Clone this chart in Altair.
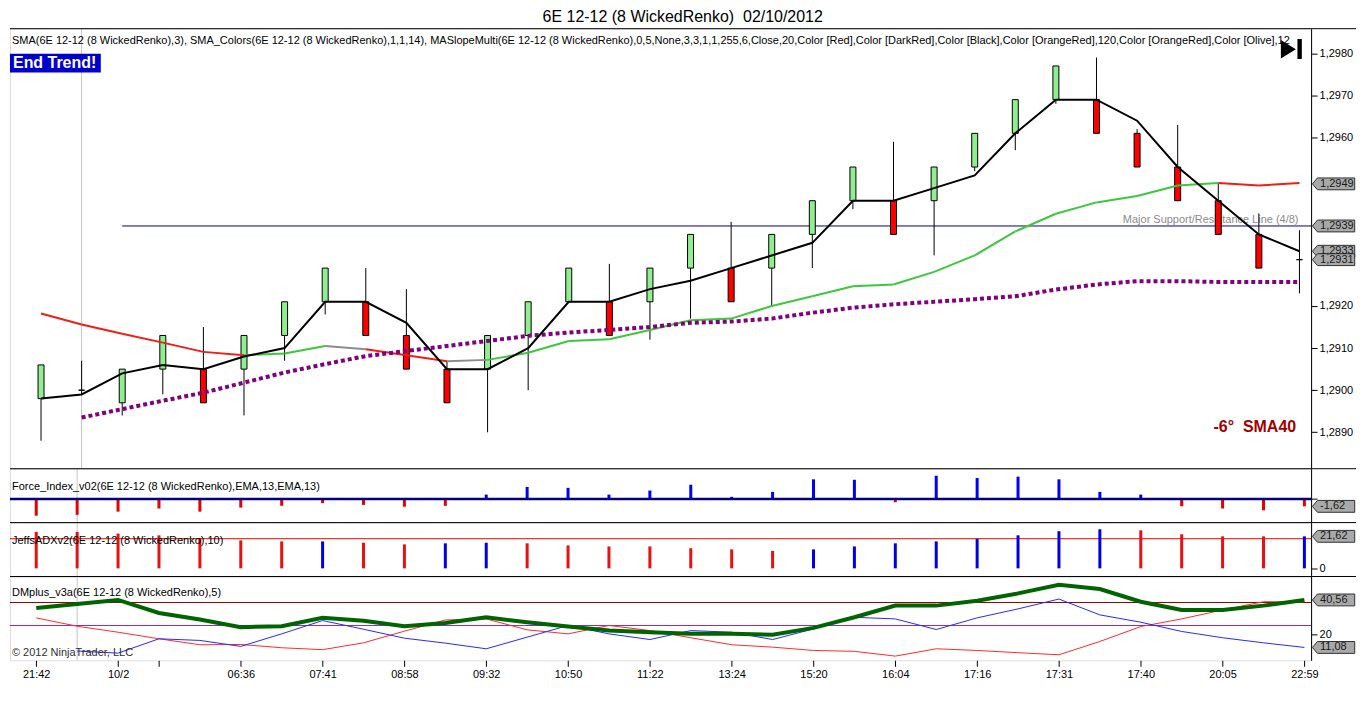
import altair as alt
import pandas as pd

FONT = "Liberation Sans"
NB = "\u00a0"
TITLE = "6E 12-12 (8 WickedRenko)" + NB + " 02/10/2012"
HEADER = ("SMA(6E 12-12 (8 WickedRenko),3), SMA_Colors(6E 12-12 (8 WickedRenko),1,1,14), "
          "MASlopeMulti(6E 12-12 (8 WickedRenko),0,5,None,3,3,1,1,255,6,Close,20,Color [Red],"
          "Color [DarkRed],Color [Black],Color [OrangeRed],120,Color [OrangeRed],Color [Olive],12")
FORCE_LABEL = "Force_Index_v02(6E 12-12 (8 WickedRenko),EMA,13,EMA,13)"
ADX_LABEL = "JeffsADXv2(6E 12-12 (8 WickedRenko),10)"
DM_LABEL = "DMplus_v3a(6E 12-12 (8 WickedRenko),5)"
COPYRIGHT = "© 2012 NinjaTrader, LLC"
END_TREND = "End Trend!"
SLOPE_TEXT = "-6°" + NB + " SMA40"
SR_TEXT = "Major Support/Resistance Line (4/8)"

# ---------------- data ----------------
time_labels = ["21:42", "", "10/2", "", "", "06:36", "", "07:41", "", "08:58", "", "09:32",
               "", "10:50", "", "11:22", "", "13:24", "", "15:20", "", "16:04", "", "17:16",
               "", "17:31", "", "17:40", "", "20:05", "", "22:59"]
tick_bars = [0, 2, 3, 5, 7, 9, 11, 13, 15, 17, 19, 21, 23, 25, 27, 29, 31]

bar_open = [1.2898, 1.2900, 1.2897, 1.2905, 1.2905, 1.2905, 1.2913, 1.2921, 1.2921, 1.2913,
            1.2905, 1.2905, 1.2913, 1.2921, 1.2921, 1.2921, 1.2929, 1.2929, 1.2929, 1.2937,
            1.2945, 1.2945, 1.2945, 1.2953, 1.2961, 1.2969, 1.2969, 1.2961, 1.2953, 1.2945,
            1.2937, 1.2931]
bar_close = [1.2906, 1.2900, 1.2905, 1.2913, 1.2897, 1.2913, 1.2921, 1.2929, 1.2913, 1.2905,
             1.2897, 1.2913, 1.2921, 1.2929, 1.2913, 1.2929, 1.2937, 1.2921, 1.2937, 1.2945,
             1.2953, 1.2937, 1.2953, 1.2961, 1.2969, 1.2977, 1.2961, 1.2953, 1.2945, 1.2937,
             1.2929, 1.2931]
bar_high = [1.2906, 1.2907, 1.2905, 1.2913, 1.2915, 1.2913, 1.2921, 1.2929, 1.2929, 1.2924,
            1.2907, 1.2913, 1.2921, 1.2929, 1.2930, 1.2929, 1.2937, 1.2940, 1.2937, 1.2945,
            1.2953, 1.2959, 1.2953, 1.2961, 1.2969, 1.2977, 1.2979, 1.2962, 1.2963, 1.2949,
            1.2942, 1.2938]
bar_low = [1.2888, 1.2899, 1.2894, 1.2899, 1.2897, 1.2894, 1.2907, 1.2918, 1.2913, 1.2905,
           1.2897, 1.2890, 1.2900, 1.2921, 1.2913, 1.2912, 1.2917, 1.2921, 1.2920, 1.2929,
           1.2943, 1.2937, 1.2932, 1.2952, 1.2957, 1.2968, 1.2961, 1.2953, 1.2945, 1.2937,
           1.2929, 1.2923]

sma3 = [1.2898, 1.2899, 1.2904, 1.2906, 1.2905, 1.2908, 1.2910, 1.2921, 1.2921, 1.2916,
        1.2905, 1.2905, 1.2910, 1.2921, 1.2921, 1.2924, 1.2926, 1.2929, 1.2932, 1.2935,
        1.2945, 1.2945, 1.2948, 1.2951, 1.2961, 1.2969, 1.2969, 1.2964, 1.2953, 1.2945,
        1.2937, 1.2933]
sma14 = [1.29182, 1.29156, 1.29134, 1.29113, 1.29091, 1.29083, 1.29087, 1.29105, 1.29097,
         1.29083, 1.29069, 1.29072, 1.29089, 1.29117, 1.29121, 1.29143, 1.29166, 1.29170,
         1.29200, 1.29223, 1.29247, 1.29251, 1.29281, 1.29320, 1.29377, 1.29419, 1.29446,
         1.29461, 1.29486, 1.29492, 1.29486, 1.29492]
# colour of each segment (bar i -> bar i+1)
sma14_colors = ["red"] * 5 + ["green"] * 2 + ["gray"] + ["red"] * 2 + ["gray"] + \
               ["green"] * 18 + ["red"] * 2
slope_ma = [None, 1.28935, 1.28955, 1.28975, 1.28994, 1.29018, 1.29042, 1.29062, 1.29081,
            1.29093, 1.29105, 1.29117, 1.29129, 1.29137, 1.29143, 1.29150, 1.29160, 1.29163,
            1.29170, 1.29184, 1.29196, 1.29204, 1.29210, 1.29216, 1.29223, 1.29239, 1.29251,
            1.29259, 1.29259, 1.29257, 1.29257, 1.29257]
sr_level = 1.2939
sr_start = 2
cursor_bar = 1
price_ticks = [1.2890, 1.2900, 1.2910, 1.2920, 1.2960, 1.2970, 1.2980]
price_box_values = [1.2949, 1.2939, 1.2933, 1.2931]
price_box_labels = ["1,2949", "1,2939", "1,2933", "1,2931"]

force = [-3.7, -3.5, -2.8, -2.1, -2.8, -1.9, -1.5, -0.9, -1.3, -1.7, -1.5, 1.0, 2.7, 2.5,
         1.0, 1.9, 3.2, 0.5, 1.6, 4.4, 4.3, -0.7, 5.2, 4.7, 5.0, 4.4, 1.6, 1.0, -1.6, -2.1,
         -2.5, -1.62]
force_box_label = "-1,62"

adx = [24.6, 24.6, 23.5, 22.3, 20.5, 18.9, 18.2, 18.2, 17.3, 16.2, 16.9, 17.3, 16.9, 15.5,
       14.8, 14.8, 13.6, 12.8, 11.8, 12.8, 14.8, 16.9, 18.2, 20.0, 22.3, 25.1, 26.4, 25.7,
       23.0, 21.6, 21.6, 21.62]
adx_dir = "rrrrrrrbrrbbrrrrrrrbbbbbbbbrrrrb"
adx_level = 20
adx_box_label = "21,62"

dm_green = [37.7, 40.4, 43.1, 34.4, 30.0, 24.9, 25.5, 31.1, 29.1, 25.5, 27.7, 31.5, 28.2,
            25.3, 22.6, 21.5, 20.4, 20.4, 19.8, 24.4, 31.5, 39.3, 39.3, 42.6, 47.5, 53.3,
            50.4, 41.9, 36.4, 36.4, 39.3, 43.1]
dm_red = [31.1, 25.5, 21.5, 17.1, 13.1, 13.3, 11.1, 9.8, 14.4, 22.2, 29.7, 30.4, 23.1, 20.4,
          26.0, 22.6, 17.8, 13.1, 11.5, 9.3, 8.7, 5.5, 10.4, 9.3, 7.8, 6.4, 15.3, 25.3, 30.4,
          36.4, 41.9, 41.9]
dm_blue = [None, 8.9, 7.5, 17.1, 16.0, 12.0, 20.4, 29.3, 23.5, 17.5, 14.2, 10.4, 18.2, 26.0,
           20.4, 16.6, 22.6, 21.5, 16.6, 23.7, 31.5, 30.4, 23.3, 31.1, 37.1, 43.7, 33.1, 28.2,
           22.0, 17.8, 14.4, 11.3]
dm_upper = 41.4
dm_lower = 26
dm_box_labels = ["40,56", "11,08"]

# ---------------- layout ----------------
W = 1304
H_PRICE, H_FORCE, H_ADX, H_DM = 441, 54, 54, 84
EXT = 1349
idx = list(range(len(bar_open)))
XS = alt.Scale(domain=[-0.6415, 31.164], nice=False, zero=False)
BOX_PATH = "M -1 0 L -0.76 -0.28 L 1 -0.28 L 1 0.28 L -0.76 0.28 Z"
PLAY_PATH = "M -1 -0.86 L 0.43 0.02 L -1 0.9 Z M 0.58 -0.95 L 1 -0.95 L 1 0.95 L 0.58 0.95 Z"
one = pd.DataFrame({"k": [0]})


def X(axis=None):
    return alt.X("i:Q", scale=XS, axis=axis)


def yaxis(values, expr=None):
    kw = dict(orient="right", values=values, tickSize=6, labelPadding=2, grid=False,
              title=None, domainColor="black", tickColor="black", labelColor="black",
              labelFont=FONT, labelFontSize=11)
    if expr:
        kw["labelExpr"] = expr
    return alt.Axis(**kw)


def top_line():
    return alt.Chart(one).mark_rule(color="black", strokeWidth=1).encode(
        x=alt.value(0), x2=alt.value(EXT), y=alt.value(0))


def cursor(Xf):
    return alt.Chart(pd.DataFrame({"i": [cursor_bar]})).mark_rule(
        color="#C4C4C4", strokeWidth=1).encode(x=Xf)


def label_text(txt, y, color="black", size=11, weight="normal", x=2, align="left"):
    return alt.Chart(pd.DataFrame({"t": [txt]})).mark_text(
        align=align, baseline="middle", font=FONT, fontSize=size, fontWeight=weight,
        color=color, clip=True).encode(text="t:N", x=alt.value(x), y=alt.value(y))


def boxes(Yf, values, labels):
    d = pd.DataFrame({"v": values, "t": labels})
    b = alt.Chart(d).mark_point(shape=BOX_PATH, size=1798, filled=True, fill="#A9A9A9",
                                stroke="#303030", strokeWidth=1, opacity=1).encode(
        x=alt.value(1326.5), y=Yf)
    t = alt.Chart(d).mark_text(align="left", baseline="middle", font=FONT, fontSize=11,
                               color="#1A1A1A").encode(
        x=alt.value(1313), y=Yf, text="t:N")
    return [b, t]


# ---------------- price panel ----------------
PS = alt.Scale(domain=[1.288135, 1.298585], nice=False, zero=False)
PAX = yaxis(price_ticks, "replace(format(datum.value, '.4f'), '.', ',')")


def PY(f):
    return alt.Y(f"{f}:Q", scale=PS, axis=PAX)


cd = pd.DataFrame({"i": idx, "o": bar_open, "c": bar_close, "h": bar_high, "l": bar_low})
cd["dir"] = ["up" if c > o else ("down" if c < o else "flat") for o, c in zip(bar_open, bar_close)]

seg_rows = []
for s, col in enumerate(sma14_colors):
    hexcol = {"red": "#F01E14", "green": "#3CC83C", "gray": "#8C8C8C"}[col]
    for j in (s, s + 1):
        seg_rows.append({"seg": s, "i": j, "p": sma14[j], "col": hexcol})
segs = pd.DataFrame(seg_rows)

lines = pd.DataFrame({"i": idx, "sma3": sma3, "slope": slope_ma})

p_layers = [
    cursor(X()),
    alt.Chart(pd.DataFrame({"i": [sr_start], "p": [sr_level]})).mark_rule(
        color="#00008C", strokeWidth=1).encode(x=X(), x2=alt.value(W), y=PY("p")),
    alt.Chart(pd.DataFrame({"i": [idx[-1]], "p": [sr_level], "t": [SR_TEXT]})).mark_text(
        align="right", baseline="alphabetic", dx=-1, dy=-3, font=FONT, fontSize=11,
        color="#8C8C8C").encode(x=X(), y=PY("p"), text="t:N"),
    alt.Chart(cd).mark_rule(color="black", strokeWidth=1).encode(
        x=X(), y=PY("l"), y2="h:Q"),
    alt.Chart(cd).mark_bar(size=6, stroke="black", strokeWidth=1).encode(
        x=X(), y=PY("o"), y2="c:Q",
        color=alt.Color("dir:N", scale=alt.Scale(domain=["up", "down", "flat"],
                                                 range=["#90EE90", "#FF0000", "#FFFFFF"]),
                        legend=None)),
    alt.Chart(segs).mark_line(strokeWidth=2).encode(
        x=X(), y=PY("p"), detail="seg:N", color=alt.Color("col:N", scale=None)),
    alt.Chart(lines).mark_line(color="#800080", strokeWidth=4, strokeDash=[4, 3],
                               strokeCap="butt").encode(x=X(), y=PY("slope")),
    alt.Chart(lines).mark_line(color="black", strokeWidth=2).encode(x=X(), y=PY("sma3")),
    label_text(HEADER, 12),
    alt.Chart(one).mark_rect(fill="#0000CC").encode(
        x=alt.value(0), x2=alt.value(91), y=alt.value(25), y2=alt.value(44)),
    label_text(END_TREND, 34.5, color="white", size=16, weight="bold", x=3),
    label_text(SLOPE_TEXT, 399, color="#A00000", size=16, weight="bold", x=1289, align="right"),
    alt.Chart(one).mark_point(shape=PLAY_PATH, size=441, filled=True, fill="black",
                              strokeWidth=0, opacity=1).encode(
        x=alt.value(1284.2), y=alt.value(20.3)),
    top_line(),
] + boxes(PY("v"), price_box_values, price_box_labels)

price = alt.layer(*p_layers).properties(width=W, height=H_PRICE)

# ---------------- force panel ----------------
FS = alt.Scale(domain=[-5.24, 6.76], nice=False, zero=False)
FAX = yaxis([0], "''")


def FY(f):
    return alt.Y(f"{f}:Q", scale=FS, axis=FAX)


fd = pd.DataFrame({"i": idx, "f": force})
fd["col"] = ["#0000FF" if v > 0 else "#E80000" for v in force]
f_layers = [
    cursor(X()),
    alt.Chart(fd).mark_rule(strokeWidth=3).encode(
        x=X(), y=FY("f"), y2=alt.datum(0), color=alt.Color("col:N", scale=None)),
    alt.Chart(pd.DataFrame({"z": [0]})).mark_rule(color="#000080", strokeWidth=2.5).encode(
        x=alt.value(0), x2=alt.value(W), y=FY("z")),
    label_text(FORCE_LABEL, 18),
    top_line(),
] + boxes(FY("v"), [force[-1]], [force_box_label])
force_chart = alt.layer(*f_layers).properties(width=W, height=H_FORCE)

# ---------------- ADX panel ----------------
AS = alt.Scale(domain=[-5.5, 30.9], nice=False, zero=False)
AAX = yaxis([0])


def AY(f):
    return alt.Y(f"{f}:Q", scale=AS, axis=AAX)


ad = pd.DataFrame({"i": idx, "a": adx})
ad["col"] = ["#0000E6" if d == "b" else "#E81010" for d in adx_dir]
a_layers = [
    cursor(X()),
    alt.Chart(pd.DataFrame({"z": [adx_level]})).mark_rule(color="#E00000", strokeWidth=1).encode(
        x=alt.value(0), x2=alt.value(W), y=AY("z")),
    alt.Chart(ad).mark_rule(strokeWidth=3).encode(
        x=X(), y=AY("a"), y2=alt.datum(0), color=alt.Color("col:N", scale=None)),
    label_text(ADX_LABEL, 18),
    top_line(),
] + boxes(AY("v"), [adx[-1]], [adx_box_label])
adx_chart = alt.layer(*a_layers).properties(width=W, height=H_ADX)

# ---------------- DM panel ----------------
DS = alt.Scale(domain=[2.7, 58.8], nice=False, zero=False)
DAX = yaxis([20])
label_array = "[" + ",".join("'" + s + "'" for s in time_labels) + "]"
XAX = alt.Axis(values=tick_bars, labelExpr=label_array + "[datum.value]", tickSize=6,
               labelPadding=2, grid=False, domain=False, title=None, labelAngle=0,
               labelFont=FONT, labelFontSize=11, labelColor="black", tickColor="black",
               labelOverlap=False, labelFlush=False)


def DX():
    return X(XAX)


def DY(f):
    return alt.Y(f"{f}:Q", scale=DS, axis=DAX)


dd = pd.DataFrame({"i": idx, "g": dm_green, "r": dm_red, "b": dm_blue})
d_layers = [
    cursor(DX()),
    alt.Chart(pd.DataFrame({"z": [dm_upper]})).mark_rule(color="#8B0000", strokeWidth=1).encode(
        x=alt.value(0), x2=alt.value(W), y=DY("z")),
    alt.Chart(pd.DataFrame({"z": [dm_lower]})).mark_rule(color="#8A2BC8", strokeWidth=1).encode(
        x=alt.value(0), x2=alt.value(W), y=DY("z")),
    alt.Chart(dd).mark_line(color="#FF2A2A", strokeWidth=1).encode(x=DX(), y=DY("r")),
    alt.Chart(dd).mark_line(color="#2828FF", strokeWidth=1).encode(x=DX(), y=DY("b")),
    alt.Chart(dd).mark_line(color="#006400", strokeWidth=4).encode(x=DX(), y=DY("g")),
    label_text(DM_LABEL, 17),
    label_text(COPYRIGHT, 77, color="#303030"),
    top_line(),
] + boxes(DY("v"), [dm_green[-1], dm_blue[-1]], dm_box_labels)
dm_chart = alt.layer(*d_layers).properties(width=W, height=H_DM)

chart = alt.vconcat(price, force_chart, adx_chart, dm_chart, spacing=0, bounds="flush").properties(
    title=alt.TitleParams(TITLE, font=FONT, fontSize=16, fontWeight="normal", color="black",
                          anchor="middle", offset=2.5),
    padding=0,
).configure_view(stroke="black", strokeWidth=1).configure(background="white")

chart.save("out.html", embed_options={"renderer": "svg", "actions": False})
